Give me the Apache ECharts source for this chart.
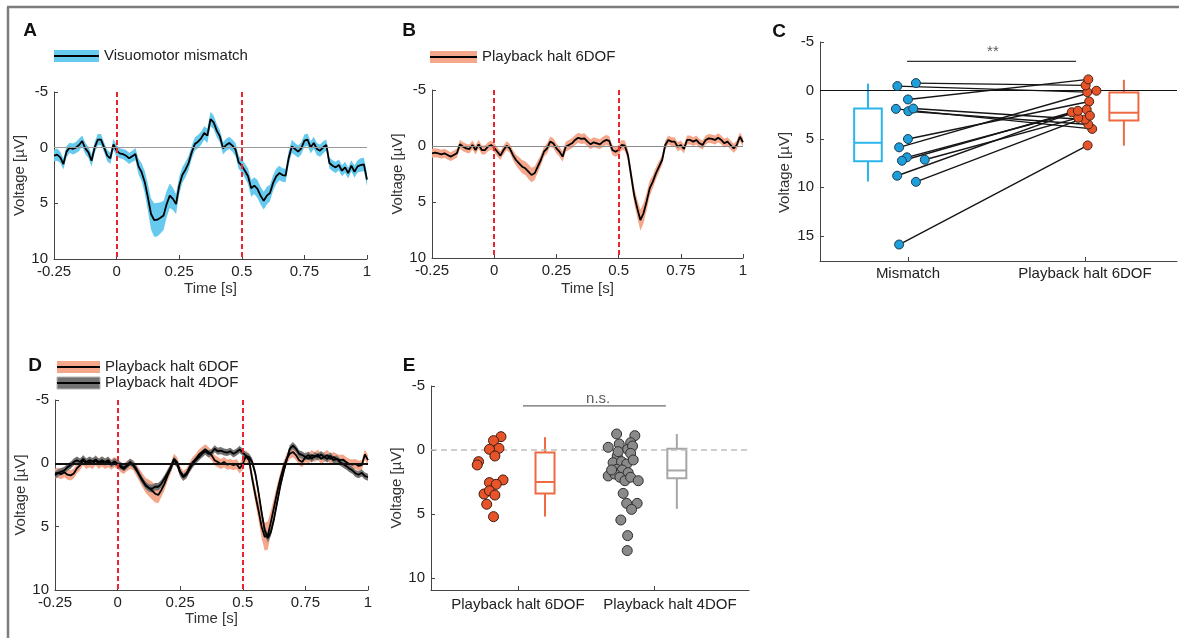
<!DOCTYPE html>
<html>
<head>
<meta charset="utf-8">
<script src="https://cdn.jsdelivr.net/npm/echarts@6/dist/echarts.min.js"></script>
<style>
html,body{margin:0;padding:0;background:#fff;}
#chart{width:1179px;height:638px;}
</style>
</head>
<body>
<div id="chart"></div>
<script>
// ERP traces, sampled every 12.5 ms from -0.25 s to 1 s
const tStart = -0.25, tStep = 0.0125;

const mismatchMean = [
  0.72,0.63,0.87,1.47,0.36,0.0,0.12,0.0,-0.24,-0.6,
  0.06,0.42,1.17,-0.03,-0.72,-0.72,-0.03,0.72,0.96,-0.3,
  0.27,0.51,0.57,0.72,0.96,0.78,0.57,1.68,2.2,3.1,
  4.46,5.96,6.5,6.47,6.3,6.1,5.06,4.31,4.6,5.06,
  3.41,2.46,1.98,1.38,0.42,-0.33,-0.54,-0.84,-1.32,-1.08,
  -2.57,-2.28,-1.53,-1.02,0.06,-0.24,-0.42,-0.18,0.18,1.32,
  1.62,2.07,2.57,3.65,3.41,3.71,4.31,4.76,4.31,4.07,
  3.17,2.57,2.28,2.46,2.5,0.9,-0.12,0.12,0.36,0.06,
  -0.63,-0.72,-0.03,-0.42,0.12,0.27,-0.03,-0.24,1.38,1.62,
  1.77,1.56,2.07,1.77,2.28,1.62,2.16,1.68,1.56,1.5,
  2.87];
const mismatchSem = [
  0.5,0.55,0.5,0.5,0.5,0.45,0.5,0.5,0.55,0.5,
  0.5,0.5,0.55,0.5,0.5,0.5,0.45,0.5,0.5,0.5,
  0.5,0.45,0.45,0.5,0.5,0.5,0.55,0.7,0.8,1.0,
  1.2,1.4,1.5,1.5,1.4,1.3,1.2,1.1,1.0,0.9,
  0.8,0.7,0.7,0.65,0.6,0.6,0.6,0.6,0.6,0.65,
  0.65,0.6,0.6,0.55,0.55,0.55,0.55,0.55,0.6,0.6,
  0.6,0.65,0.7,0.75,0.75,0.8,0.8,0.8,0.8,0.75,
  0.7,0.7,0.65,0.6,0.6,0.6,0.6,0.55,0.55,0.55,
  0.55,0.55,0.55,0.55,0.55,0.55,0.55,0.5,0.5,0.5,
  0.5,0.5,0.5,0.5,0.5,0.5,0.55,0.55,0.6,0.6,
  0.6];

const halt6Mean = [
  0.65,0.6,0.65,0.74,0.65,0.8,0.95,0.8,0.65,-0.15,
  0.06,0.21,0.27,-0.09,0.36,-0.15,0.36,0.36,0.06,-0.09,
  0.15,0.51,0.86,0.36,-0.03,0.21,0.8,1.25,1.55,1.85,
  1.99,2.29,2.59,2.44,1.85,1.25,0.51,0.21,-0.39,-0.24,
  0.21,0.51,0.95,0.06,-0.09,-0.24,-0.54,-0.74,-0.63,-0.68,
  -0.39,-0.15,-0.33,-0.24,-0.15,-0.39,-0.54,-0.45,0.36,0.51,
  0.36,-0.09,-0.03,0.8,2.59,4.38,5.57,6.61,6.01,4.97,
  3.78,3.18,2.44,1.85,1.25,-0.09,-0.54,-0.39,-0.39,0.06,
  -0.09,0.27,-0.54,-0.54,-0.39,-0.54,-0.24,-0.09,-0.54,-0.68,
  -0.63,-0.54,-0.74,-0.54,-0.24,-0.39,-0.09,0.21,-0.09,-0.83,
  -0.33];
const halt6Sem = [
  0.4,0.4,0.4,0.4,0.4,0.4,0.4,0.4,0.4,0.4,
  0.4,0.4,0.4,0.4,0.4,0.4,0.4,0.4,0.4,0.4,
  0.4,0.4,0.4,0.4,0.4,0.4,0.45,0.5,0.55,0.6,
  0.6,0.65,0.65,0.6,0.55,0.5,0.45,0.45,0.45,0.45,
  0.45,0.45,0.45,0.45,0.45,0.45,0.45,0.45,0.45,0.45,
  0.45,0.45,0.45,0.45,0.45,0.45,0.45,0.45,0.45,0.45,
  0.45,0.45,0.45,0.5,0.6,0.7,0.8,0.95,0.9,0.8,
  0.7,0.6,0.55,0.5,0.45,0.4,0.4,0.4,0.4,0.4,
  0.4,0.4,0.4,0.4,0.4,0.4,0.4,0.4,0.4,0.4,
  0.4,0.4,0.4,0.4,0.4,0.4,0.4,0.4,0.4,0.4,
  0.4];

// panel D
const halt6MeanD = [
  0.8,0.75,0.85,0.7,0.9,0.95,0.8,0.4,0.15,-0.25,
  0.05,-0.1,0.05,-0.25,0.05,-0.15,0.05,-0.1,0.1,-0.1,
  0.05,0.3,0.45,0.2,0.05,0.15,0.55,0.95,1.35,1.75,
  1.95,2.15,2.4,2.5,2.1,1.6,0.95,0.4,-0.35,-0.1,
  0.65,1.0,0.8,0.3,-0.1,-0.35,-0.7,-0.9,-1.1,-0.9,
  -0.65,-0.25,-0.1,0.05,-0.1,0.1,0.05,0.15,0.05,0.4,
  0.05,-0.6,-0.25,1.2,2.5,3.7,5.0,5.8,5.7,4.6,
  3.45,2.25,1.2,0.3,-0.35,-0.75,-0.9,-0.65,-0.25,-0.1,
  -0.5,-0.35,-0.65,-0.5,-0.7,-0.35,-0.5,-0.65,-0.35,-0.5,
  -0.35,-0.25,-0.3,-0.1,0.05,0.1,0.05,0.2,0.15,-0.7,
  -0.25];
const halt6SemD = [
  0.4,0.4,0.4,0.4,0.4,0.4,0.4,0.4,0.4,0.4,
  0.4,0.4,0.4,0.4,0.4,0.4,0.4,0.4,0.4,0.4,
  0.4,0.4,0.4,0.4,0.4,0.4,0.45,0.5,0.55,0.6,
  0.65,0.7,0.7,0.65,0.55,0.5,0.45,0.4,0.4,0.4,
  0.4,0.4,0.4,0.4,0.4,0.4,0.4,0.4,0.4,0.4,
  0.4,0.4,0.4,0.4,0.4,0.4,0.4,0.4,0.4,0.4,
  0.45,0.45,0.45,0.5,0.6,0.75,0.9,1.1,1.1,0.9,
  0.75,0.6,0.5,0.45,0.4,0.4,0.4,0.4,0.4,0.4,
  0.4,0.4,0.4,0.4,0.4,0.4,0.4,0.4,0.4,0.4,
  0.4,0.4,0.4,0.4,0.4,0.4,0.4,0.4,0.4,0.4,
  0.4];
const halt4Mean = [
  0.95,0.75,0.65,0.55,0.3,0.15,-0.1,-0.25,-0.1,-0.35,
  -0.1,-0.25,-0.15,-0.3,-0.1,-0.25,-0.1,-0.25,0.05,-0.15,
  0.05,0.2,0.35,0.15,-0.1,0.1,0.45,0.95,1.4,1.75,
  1.95,2.0,1.85,1.85,1.6,1.2,0.75,0.3,-0.25,0.05,
  0.75,1.1,0.9,0.45,0.05,-0.25,-0.5,-0.75,-0.95,-0.75,
  -0.85,-1.15,-0.95,-1.0,-0.9,-0.85,-0.95,-0.75,-0.9,-1.1,
  -0.85,-0.6,-0.5,-0.1,0.8,2.25,3.85,5.3,5.9,5.4,
  4.35,3.05,1.75,0.7,-0.25,-1.15,-1.4,-1.15,-0.75,-0.65,
  -0.5,-0.65,-0.35,-0.6,-0.5,-0.7,-0.5,-0.35,-0.6,-0.25,
  -0.35,-0.1,0.05,0.2,0.4,0.55,0.8,0.9,0.75,1.0,
  1.1];
const halt4Sem = [
  0.28,0.28,0.28,0.28,0.28,0.28,0.28,0.28,0.28,0.28,
  0.28,0.28,0.28,0.28,0.28,0.28,0.28,0.28,0.28,0.28,
  0.28,0.28,0.28,0.28,0.28,0.28,0.28,0.3,0.3,0.3,
  0.3,0.3,0.3,0.3,0.3,0.28,0.28,0.28,0.28,0.28,
  0.28,0.28,0.28,0.28,0.28,0.28,0.28,0.28,0.28,0.28,
  0.28,0.28,0.28,0.28,0.28,0.28,0.28,0.28,0.28,0.28,
  0.28,0.28,0.28,0.3,0.3,0.32,0.35,0.35,0.35,0.32,
  0.3,0.3,0.3,0.28,0.28,0.28,0.28,0.28,0.28,0.28,
  0.28,0.28,0.28,0.28,0.28,0.28,0.28,0.28,0.28,0.28,
  0.28,0.28,0.28,0.28,0.28,0.28,0.28,0.28,0.28,0.28,
  0.28];

// panel C: paired animals (same order in both arrays)
const pairCats = ['Mismatch', 'Playback halt 6DOF'];
const pairMismatch = [-0.45,-0.76,0.93,1.9,2.14,1.87,5.01,5.87,6.9,7.25,7.15,8.8,9.43,15.9];
const pairMismatchX = [0.94,1.045,1.0,0.932,1.002,1.03,1.0,0.95,0.994,0.966,1.095,0.939,1.045,0.95];
const pairHalt6 = [0.17,-0.52,-1.14,3.97,3.52,3.0,1.14,0.03,1.97,2.25,2.83,2.1,2.6,5.67];
const pairHalt6X = [2.013,2.004,2.019,2.041,2.019,2.0,2.024,2.065,2.01,1.925,1.962,1.96,2.028,2.015];
// box stats: [x, upper whisker, q1, median, q3, lower whisker]
const boxMismatchC = [0.774, -0.7, 1.85, 5.4, 7.3, 9.4];
const boxHalt6C = [2.22, -1.1, 0.2, 2.3, 3.1, 5.7];
const sigC = [[0.995, -3.0], [1.95, -3.0]];

// panel E
const haltCats = ['Playback halt 6DOF', 'Playback halt 4DOF'];
const haltLabelPos = [1, 2.118];
const e6Vals = [-1.04,-0.73,-0.13,-0.05,0.47,0.91,1.17,2.34,2.55,2.68,3.44,3.18,3.52,4.24,5.21];
const e6X = [0.875,0.82,0.86,0.79,0.83,0.71,0.70,0.89,0.79,0.84,0.75,0.79,0.83,0.77,0.82];
const e4Vals = [-1.25,-1.12,-0.47,-0.57,-0.21,-0.05,-0.31,0.47,0.26,0.99,0.91,1.09,1.51,1.56,1.77,2.03,
  1.88,2.13,2.4,2.13,2.4,3.39,4.17,4.17,4.64,5.47,6.69,7.86,1.56,0.13,0.78];
const e4X = [1.726,1.86,1.745,1.829,1.664,1.807,1.843,1.73,1.829,1.70,1.762,1.80,1.726,1.767,1.811,1.664,
  1.713,1.75,1.787,1.829,1.885,1.774,1.80,1.877,1.836,1.757,1.807,1.804,1.689,1.737,1.848];
const boxHalt6E = [1.199, -1.0, 0.2, 2.5, 3.4, 5.2];
const boxHalt4E = [2.169, -1.25, -0.1, 1.6, 2.2, 4.6];
const sigE = [[1.037, -3.44], [2.088, -3.44]];

const FONT = '"Liberation Sans", Arial, Helvetica, sans-serif';
const AX = '#444';
const times = mismatchMean.map((_, i) => +(tStart + i * tStep).toFixed(4));

function labelStyle(extra) {
  return Object.assign({fontFamily: FONT, fontSize: 15, color: '#222'}, extra || {});
}

function voltY(gi, max, gap, pad) {
  return {
    type: 'value', gridIndex: gi, inverse: true, min: -5, max: max, interval: 5,
    name: 'Voltage [µV]', nameLocation: 'middle', nameGap: gap, nameRotate: 90,
    nameTextStyle: labelStyle({color: '#333', padding: pad || 0}),
    axisLine: {show: true, onZero: false, lineStyle: {color: AX, width: 1}},
    axisTick: {show: true, inside: true, length: 4, lineStyle: {color: AX}},
    axisLabel: labelStyle({margin: 6, formatter: v => (Math.abs(v % 5) < 1e-6 ? String(v) : '')}),
    splitLine: {show: false}
  };
}

function timeX(gi, gap) {
  return {
    type: 'value', gridIndex: gi, min: -0.25, max: 1, interval: 0.25,
    name: 'Time [s]', nameLocation: 'middle', nameGap: gap,
    nameTextStyle: labelStyle({color: '#333'}),
    axisLine: {onZero: false, lineStyle: {color: AX, width: 1}},
    axisTick: {inside: true, length: 4, lineStyle: {color: AX}},
    axisLabel: labelStyle({margin: 5}),
    splitLine: {show: false}
  };
}

function catX(gi, min, max, names, labelPos, margin) {
  return {
    type: 'value', gridIndex: gi, min: min, max: max,
    axisLine: {onZero: false, lineStyle: {color: AX, width: 1}},
    axisTick: {inside: true, length: 4, customValues: [1, 2], lineStyle: {color: AX}},
    axisLabel: labelStyle({margin: margin, customValues: labelPos,
      formatter: v => names[labelPos.indexOf(v)] || ''}),
    splitLine: {show: false}
  };
}

// shaded mean ± sem area, drawn as one polygon through the axis scales
function band(gi, mean, sem, color) {
  return {
    type: 'custom', xAxisIndex: gi, yAxisIndex: gi, silent: true, z: 1,
    data: mean.map((m, i) => [times[i], +(m - sem[i]).toFixed(3), +(m + sem[i]).toFixed(3)]),
    encode: {x: 0, y: [1, 2]},
    renderItem: (params, api) => {
      if (params.dataIndex !== 0) return null;
      const pts = [];
      for (let i = 0; i < mean.length; i++) pts.push(api.coord([times[i], mean[i] + sem[i]]));
      for (let i = mean.length - 1; i >= 0; i--) pts.push(api.coord([times[i], mean[i] - sem[i]]));
      return {type: 'polygon', shape: {points: pts}, style: {fill: color}};
    }
  };
}

function trace(gi, mean, marks) {
  const s = {
    type: 'line', xAxisIndex: gi, yAxisIndex: gi,
    data: mean.map((m, i) => [times[i], m]),
    symbol: 'none', lineStyle: {color: '#000', width: 1.8}, silent: true, z: 3
  };
  if (marks) s.markLine = marks;
  return s;
}

function eventMarks(zeroStyle) {
  const red = {color: '#e8262b', width: 2, type: [5, 3]};
  return {
    silent: true, symbol: ['none', 'none'], label: {show: false}, animation: false,
    data: [
      {yAxis: 0, lineStyle: zeroStyle},
      {xAxis: 0, lineStyle: red},
      {xAxis: 0.5, lineStyle: red}
    ]
  };
}

function boxSeries(gi, stats, halfW, color) {
  return {
    type: 'custom', xAxisIndex: gi, yAxisIndex: gi, data: [stats], silent: true, z: 4,
    renderItem: (params, api) => {
      const cx = api.value(0);
      const pHi = api.coord([cx, api.value(1)]);
      const pQ1 = api.coord([cx, api.value(2)]);
      const pMed = api.coord([cx, api.value(3)]);
      const pQ3 = api.coord([cx, api.value(4)]);
      const pLo = api.coord([cx, api.value(5)]);
      const l = api.coord([cx - halfW, 0])[0], r = api.coord([cx + halfW, 0])[0];
      const st = {stroke: color, lineWidth: 2, fill: 'none'};
      return {type: 'group', children: [
        {type: 'line', shape: {x1: pHi[0], y1: pHi[1], x2: pQ1[0], y2: pQ1[1]}, style: st},
        {type: 'line', shape: {x1: pQ3[0], y1: pQ3[1], x2: pLo[0], y2: pLo[1]}, style: st},
        {type: 'rect', shape: {x: l, y: Math.min(pQ1[1], pQ3[1]), width: r - l, height: Math.abs(pQ3[1] - pQ1[1])}, style: st},
        {type: 'line', shape: {x1: l, y1: pMed[1], x2: r, y2: pMed[1]}, style: st}
      ]};
    }
  };
}

function dots(gi, xs, ys, size, fill, border, z) {
  return {
    type: 'scatter', xAxisIndex: gi, yAxisIndex: gi, symbolSize: size, z: z || 5,
    data: ys.map((v, i) => [xs[i], v]),
    itemStyle: {color: fill, borderColor: border, borderWidth: 1, opacity: 1}, silent: true
  };
}

function sigBar(gi, pts, text, labelPos, color) {
  return [{
    type: 'line', xAxisIndex: gi, yAxisIndex: gi, data: pts, symbol: 'none',
    lineStyle: {color: color, width: 1.3}, silent: true, z: 3
  }, {
    type: 'scatter', xAxisIndex: gi, yAxisIndex: gi, data: [labelPos], symbolSize: 0, silent: true,
    label: {show: true, position: 'inside', formatter: text, fontFamily: FONT, fontSize: 15, color: '#333'}
  }];
}

const series = [].concat(
  // A
  [band(0, mismatchMean, mismatchSem, '#66caef'),
   trace(0, mismatchMean, eventMarks({color: '#9a9a9a', width: 1, type: 'solid'}))],
  // B
  [band(1, halt6Mean, halt6Sem, '#f5a78c'),
   trace(1, halt6Mean, eventMarks({color: '#8a8a8a', width: 1, type: 'solid'}))],
  // C
  [{
    type: 'lines', coordinateSystem: 'cartesian2d', xAxisIndex: 2, yAxisIndex: 2, silent: true, z: 2,
    lineStyle: {color: '#151515', width: 1.4, opacity: 1},
    data: pairMismatch.map((v, i) => ({coords: [[pairMismatchX[i], v], [pairHalt6X[i], pairHalt6[i]]]})),
    markLine: {silent: true, symbol: ['none', 'none'], label: {show: false},
      data: [{yAxis: 0, lineStyle: {color: '#111', width: 1.2, type: 'solid'}}]}
  }],
  [dots(2, pairMismatchX, pairMismatch, 9, '#1f9fd9', '#1b3b52'),
   dots(2, pairHalt6X, pairHalt6, 9, '#e8542a', '#4a2313'),
   boxSeries(2, boxMismatchC, 0.078, '#2bb5ea'),
   boxSeries(2, boxHalt6C, 0.082, '#ee6a42')],
  sigBar(2, sigC, '**', [1.48, -4.0], '#333'),
  // D
  [band(3, halt6MeanD, halt6SemD, '#f5a78c'),
   band(3, halt4Mean, halt4Sem, '#727272'),
   trace(3, halt6MeanD, eventMarks({color: '#111', width: 2, type: 'solid'})),
   trace(3, halt4Mean)],
  // E
  [Object.assign(dots(4, e6X, e6Vals, 10, '#e8542a', '#3d1d10'), {
    markLine: {silent: true, symbol: ['none', 'none'], label: {show: false},
      data: [{yAxis: 0, lineStyle: {color: '#bdbdbd', width: 1.5, type: [6, 4]}}]}
  }),
   dots(4, e4X, e4Vals, 10, '#8a8a8a', '#2e2e2e'),
   boxSeries(4, boxHalt6E, 0.07, '#ee6a42'),
   boxSeries(4, boxHalt4E, 0.07, '#a6a6a6')],
  sigBar(4, sigE, 'n.s.', [1.59, -3.98], '#6a6a6a')
);

function letter(t, x, y) {
  return {type: 'text', x: x, y: y, silent: true,
    style: {text: t, font: 'bold 19px ' + FONT, fill: '#111', align: 'center', verticalAlign: 'middle'}};
}
function legendItem(x, y, w, fill, label, stroke) {
  return [
    {type: 'rect', silent: true, shape: {x: x, y: y - 6, width: w, height: 12},
      style: {fill: fill, stroke: stroke || null, lineWidth: stroke ? 1 : 0}},
    {type: 'line', silent: true, shape: {x1: x, y1: y, x2: x + w, y2: y}, style: {stroke: '#000', lineWidth: 2}},
    {type: 'text', silent: true, x: x + w + 5, y: y,
      style: {text: label, font: '15px ' + FONT, fill: '#222', align: 'left', verticalAlign: 'middle'}}
  ];
}

const chart = echarts.init(document.getElementById('chart'));
chart.setOption({
  animation: false,
  backgroundColor: '#fff',
  grid: [
    {left: 54, top: 92, width: 313, height: 167},
    {left: 432, top: 90, width: 311, height: 168},
    {left: 820, top: 42, width: 357, height: 219},
    {left: 55, top: 400, width: 313, height: 190},
    {left: 431, top: 386, width: 318, height: 204}
  ],
  xAxis: [
    timeX(0, 22),
    timeX(1, 23),
    catX(2, 0.503, 2.52, pairCats, [1, 2], 5),
    timeX(3, 21),
    catX(4, 0.36, 2.70, haltCats, haltLabelPos, 7)
  ],
  yAxis: [
    voltY(0, 10, 21),
    voltY(1, 10, 20),
    voltY(2, 17.6, 28, [0, 42, 0, 0]),
    voltY(3, 10, 20),
    voltY(4, 10.94, 24)
  ],
  series: series,
  graphic: [].concat(
    [{type: 'line', silent: true, shape: {x1: 7, y1: 7, x2: 1179, y2: 7}, style: {stroke: '#7d7d7d', lineWidth: 2.5}},
     {type: 'line', silent: true, shape: {x1: 8, y1: 7, x2: 8, y2: 638}, style: {stroke: '#7d7d7d', lineWidth: 2.5}},
     letter('A', 30, 31), letter('B', 409, 31), letter('C', 779, 32), letter('D', 35, 366), letter('E', 409, 366)],
    legendItem(54, 56, 45, '#66caef', 'Visuomotor mismatch'),
    legendItem(430, 57, 47, '#f5a78c', 'Playback halt 6DOF'),
    legendItem(57, 367, 43, '#f5a78c', 'Playback halt 6DOF'),
    legendItem(57, 383, 43, '#727272', 'Playback halt 4DOF', '#b5b5b5')
  )
});
</script>
</body>
</html>
